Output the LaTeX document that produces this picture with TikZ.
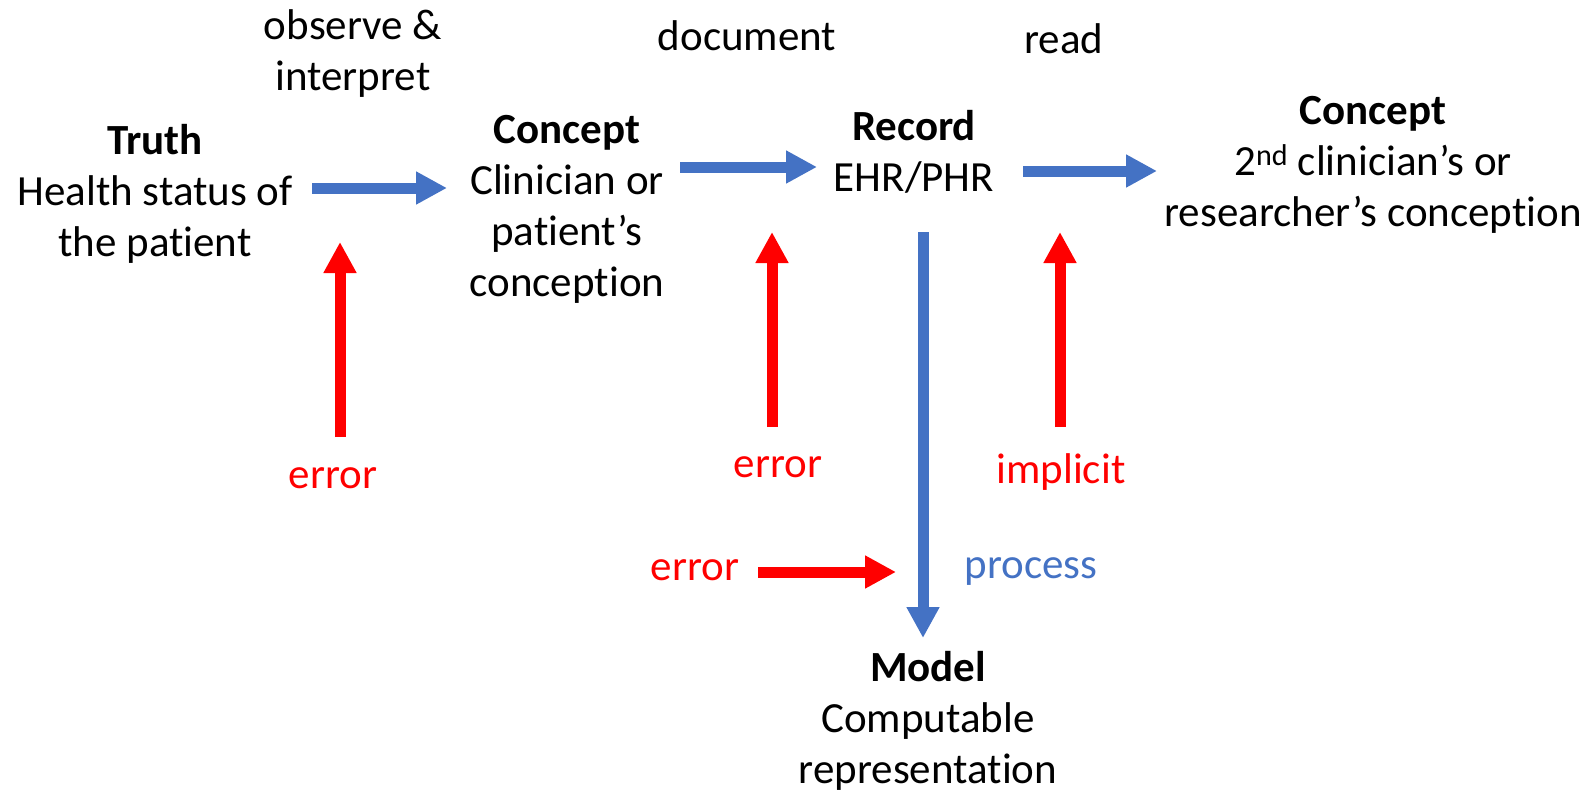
\documentclass[tikz,border=0pt]{standalone}
\usepackage{fontspec}
\setmainfont{Carlito}[Ligatures=NoCommon, RawFeature={-liga;-clig;-calt}]
\usetikzlibrary{arrows.meta}
\definecolor{oblue}{HTML}{4472C4}
\definecolor{ored}{HTML}{FF0000}
\tikzset{
  txt/.style={inner sep=0pt, align=center, font=\fontsize{43}{51}\selectfont, anchor=base},
  redtxt/.style={txt, text=ored},
  bluetxt/.style={txt, text=oblue},
  bluearrow/.style={draw=oblue, line width=11pt, -{Triangle[length=31pt,width=31pt]}},
  redarrow/.style={draw=ored, line width=11pt, -{Triangle[length=31pt,width=31pt]}},
}
\begin{document}
\begin{tikzpicture}[x=1pt,y=-1pt]
\useasboundingbox (0,0) rectangle (1595,795);
% labels above the arrows (anchor = baseline of the last line)
\node[txt] (obs) at (353,90) {observe \&\\interpret};
\node[txt] (doc) at (747,50) {document};
\node[txt] (read) at (1064,53) {read};
% main blocks
\node[txt] (truth) at (155,256) {\textbf{Truth}\\Health status of\\the patient};
\node[txt] (concL) at (567,296) {\textbf{Concept}\\Clinician or\\patient’s\\conception};
\node[txt] (rec) at (914,191) {\textbf{Record}\\EHR/PHR};
\node[txt] (concR) at (1373,226) {\textbf{Concept}\\2\textsuperscript{nd} clinician’s or\\researcher’s conception};
\node[txt] (model) at (928,783) {\textbf{Model}\\Computable\\representation};
% error labels
\node[redtxt] (errL) at (333,488) {error};
\node[redtxt] (errM) at (778,477) {error};
\node[redtxt] (impl) at (1061,483) {implicit};
\node[redtxt] (errB) at (695,580) {error};
\node[bluetxt] (proc) at (1031,578) {process};
% arrow end points
\coordinate (b1s) at (312,188); \coordinate (b1e) at (447,188);
\coordinate (b2s) at (680,167); \coordinate (b2e) at (817,167);
\coordinate (b3s) at (1023,171); \coordinate (b3e) at (1157,171);
\coordinate (bds) at (923,232); \coordinate (bde) at (923,638);
\coordinate (r1s) at (340,437); \coordinate (r1e) at (340,242);
\coordinate (r2s) at (772,427); \coordinate (r2e) at (772,232);
\coordinate (r3s) at (1060,427); \coordinate (r3e) at (1060,232);
\coordinate (rhs) at (758,572); \coordinate (rhe) at (896,572);
% arrows
\draw[bluearrow] (b1s) -- (b1e);
\draw[bluearrow] (b2s) -- (b2e);
\draw[bluearrow] (b3s) -- (b3e);
\draw[bluearrow] (bds) -- (bde);
\draw[redarrow] (r1s) -- (r1e);
\draw[redarrow] (r2s) -- (r2e);
\draw[redarrow] (r3s) -- (r3e);
\draw[redarrow] (rhs) -- (rhe);
\end{tikzpicture}
\end{document}
